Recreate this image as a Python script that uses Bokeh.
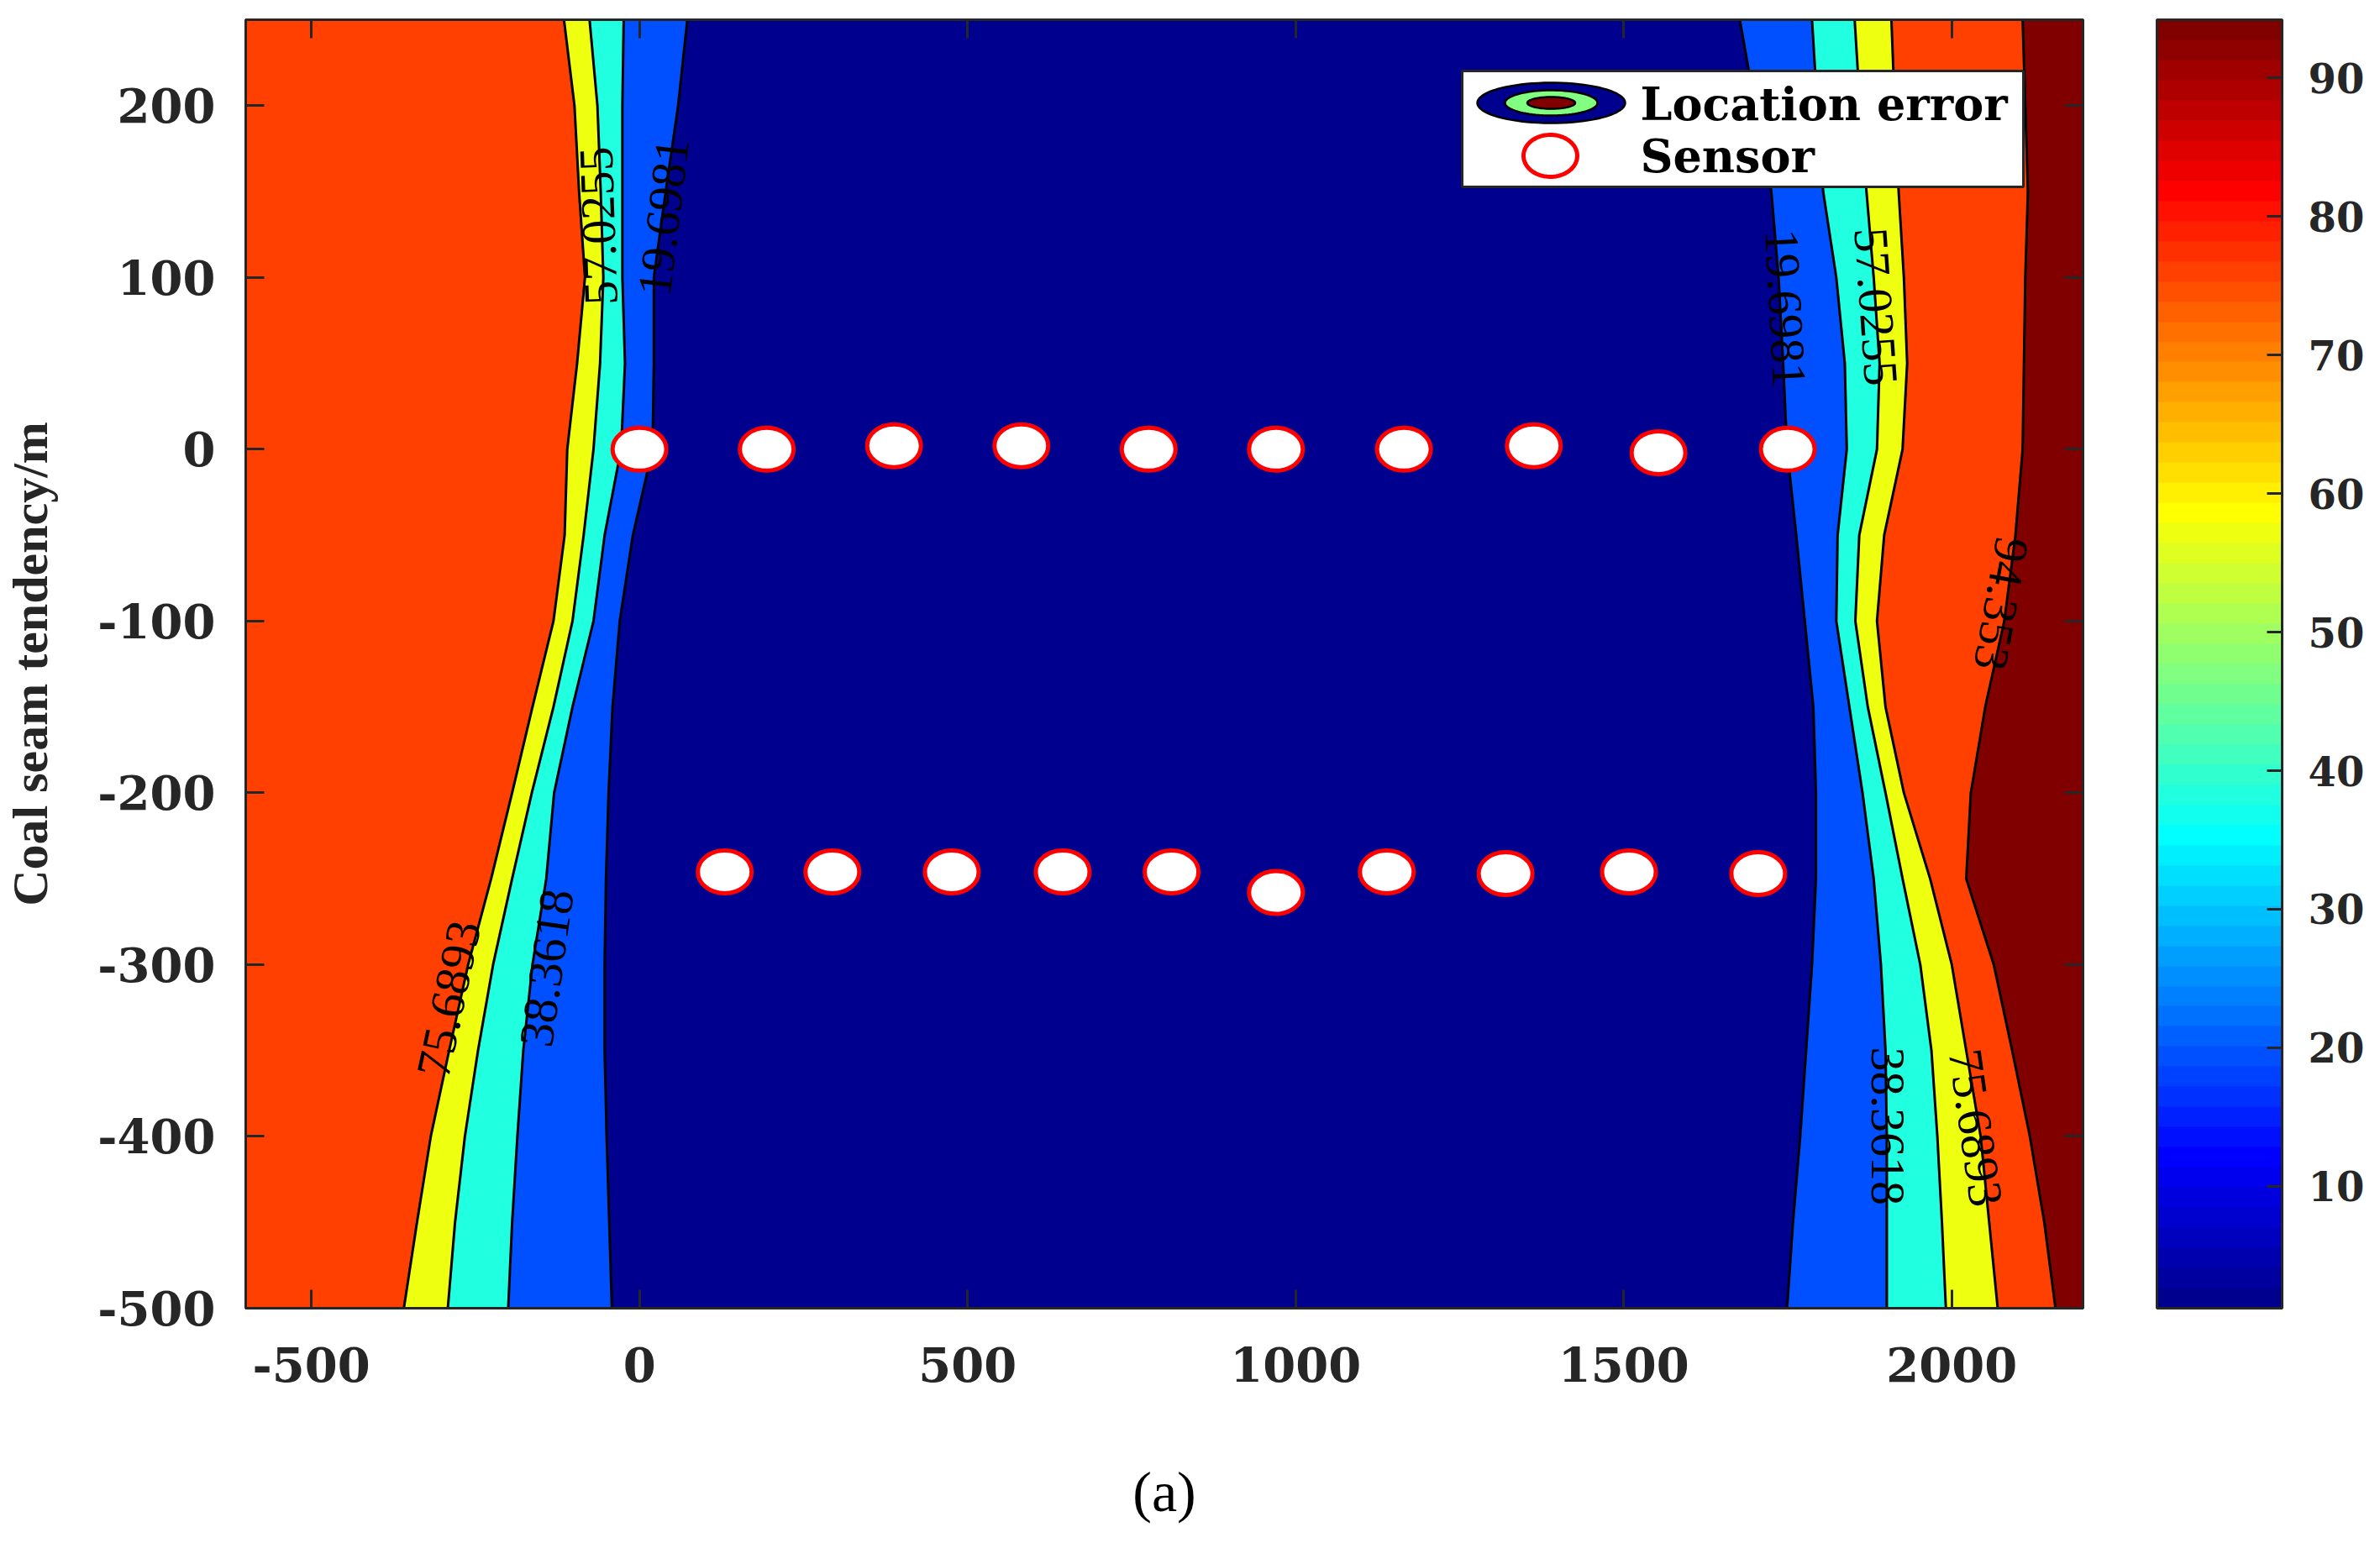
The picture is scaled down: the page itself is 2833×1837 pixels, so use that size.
import numpy as np
from bokeh.plotting import figure
from bokeh.models import (Range1d, FixedTicker, LinearAxis, ColorBar, LinearColorMapper,
                          BoxAnnotation, PolyAnnotation, Label)
from bokeh.core.properties import value
from bokeh.embed import file_html
from bokeh.resources import INLINE

# ---------------- data ----------------
x_limits = [-600, 2200]
y_limits = [-500, 250]
x_ticks = [-500, 0, 500, 1000, 1500, 2000]
y_ticks = [-500, -400, -300, -200, -100, 0, 100, 200]
cbar_ticks = [10, 20, 30, 40, 50, 60, 70, 80, 90]
cbar_limits = [1.2, 94.2]

# y positions at which the contour boundaries were read
boundary_y = [250, 200, 150, 100, 50, 0, -50, -100, -150, -200, -250, -300, -350, -400, -450, -500]

# left-side contour lines (x position of each level)
left_75_6893 = [-115, -99, -92, -83, -95, -110, -114, -131, -163, -194, -226, -261, -290, -318, -339, -359]
left_57_0255 = [-76, -64, -59, -55, -60, -70, -85, -102, -131, -164, -194, -223, -246, -266, -281, -292]
left_38_3618 = [-24, -26, -26, -26, -22, -28, -53, -70, -102, -130, -142, -163, -177, -186, -194, -200]
left_19_6981 = [73, 59, 40, 22, 22, 20, -10, -30, -41, -47, -51, -53, -53, -50, -46, -42]

# right-side contour lines
right_19_6981 = [1677, 1700, 1725, 1736, 1743, 1749, 1763, 1776, 1789, 1793, 1793, 1787, 1778, 1769, 1758, 1749]
right_38_3618 = [1787, 1795, 1804, 1824, 1837, 1840, 1826, 1824, 1844, 1864, 1881, 1892, 1899, 1901, 1901, 1901]
right_57_0255 = [1852, 1860, 1870, 1881, 1890, 1886, 1859, 1853, 1872, 1899, 1925, 1952, 1969, 1978, 1985, 1991]
right_75_6893 = [1908, 1913, 1919, 1927, 1932, 1925, 1897, 1886, 1899, 1927, 1967, 2000, 2022, 2044, 2057, 2070]
right_94_353 = [2108, 2112, 2116, 2112, 2110, 2108, 2097, 2080, 2051, 2029, 2022, 2064, 2092, 2119, 2141, 2158]

# contour labels
label_text = ["57.0255", "19.6981", "75.6893", "38.3618",
              "19.6981", "57.0255", "94.353", "38.3618", "75.6893"]
label_x = [-62, 37, -290, -141, 1746, 1884, 2075, 1902, 2036]
label_y = [130, 135, -320, -302, 82, 83, -90, -394, -395]
label_angle = [92, 83, 78, 82, -87, -86, -100, -90, -82]

# sensors
sensor_row1_x = [0, 194, 388, 582, 776, 970, 1165, 1363, 1553, 1750]
sensor_row1_y = [0, 0, 2, 2, 0, 0, 0, 2, -2, 0]
sensor_row2_x = [130, 294, 476, 645, 811, 970, 1139, 1320, 1508, 1705]
sensor_row2_y = [-246, -246, -246, -246, -246, -258, -246, -247, -246, -247]

# ---------------- styling ----------------
AXIS = "#262626"
NAVY = "#00008F"
BLUE = "#0050FF"
CYAN = "#20FFDF"
YELLOW = "#EFFF10"
ORANGE = "#FF4000"
DARKRED = "#800000"


def matlab_jet(m=64):
    n = int(np.ceil(m / 4))
    u = np.concatenate([np.arange(1, n + 1) / n, np.ones(n - 1), np.arange(n, 0, -1) / n])
    g = int(np.ceil(n / 2)) - (1 if m % 4 == 1 else 0) + np.arange(1, len(u) + 1)
    r = g + n
    b = g - n
    J = np.zeros((m, 3))
    J[r[r <= m] - 1, 0] = u[r <= m]
    J[g[g <= m] - 1, 1] = u[g <= m]
    J[b[b >= 1] - 1, 2] = u[b >= 1]
    return ["#%02x%02x%02x" % tuple(int(round(c * 255)) for c in row) for row in J]


p = figure(width=2817, height=1821,
           x_range=Range1d(*x_limits), y_range=Range1d(*y_limits),
           output_backend="svg", toolbar_location=None,
           min_border_left=284, min_border_right=338,
           min_border_top=23, min_border_bottom=264)
p.xgrid.visible = False
p.ygrid.visible = False
p.outline_line_color = AXIS
p.outline_line_width = 3
p.border_fill_color = "white"
p.background_fill_color = NAVY

# ---- filled bands ----
n = len(boundary_y)
x_lo = [x_limits[0]] * n
x_hi = [x_limits[1]] * n
bands = [
    (x_lo, left_75_6893, ORANGE),
    (left_75_6893, left_57_0255, YELLOW),
    (left_57_0255, left_38_3618, CYAN),
    (left_38_3618, left_19_6981, BLUE),
    (left_19_6981, right_19_6981, NAVY),
    (right_19_6981, right_38_3618, BLUE),
    (right_38_3618, right_57_0255, CYAN),
    (right_57_0255, right_75_6893, YELLOW),
    (right_75_6893, right_94_353, ORANGE),
    (right_94_353, x_hi, DARKRED),
]
for x1, x2, col in bands:
    p.harea(x1=x1, x2=x2, y=boundary_y, fill_color=col, fill_alpha=1)

# ---- contour lines ----
for xs in [left_75_6893, left_57_0255, left_38_3618, left_19_6981,
           right_19_6981, right_38_3618, right_57_0255, right_75_6893, right_94_353]:
    p.line(x=xs, y=boundary_y, line_color="black", line_width=3)

# ---- contour labels ----
p.text(x=label_x, y=label_y, text=label_text, angle=label_angle, angle_units="deg",
       text_align="center", text_baseline="middle",
       text_font=value("Liberation Serif"), text_font_size="58px", text_color="black")

# ---- sensors ----
for sx, sy in [(sensor_row1_x, sensor_row1_y), (sensor_row2_x, sensor_row2_y)]:
    p.ellipse(x=sx, y=sy, width=64, height=51, width_units="screen", height_units="screen",
              fill_color="white", line_color="#FF0000", line_width=5)

# ---- axes ----
def style_axis(ax, ticks, show_labels):
    ax.ticker = FixedTicker(ticks=ticks)
    ax.major_tick_in = 22
    ax.major_tick_out = 0
    ax.minor_tick_line_color = None
    ax.major_tick_line_color = AXIS
    ax.major_tick_line_width = 3
    ax.axis_line_color = AXIS
    ax.axis_line_width = 3
    if show_labels:
        ax.major_label_overrides = {t: str(t) for t in ticks}
        ax.major_label_text_font = "DejaVu Serif"
        ax.major_label_text_font_style = "bold"
        ax.major_label_text_font_size = "56px"
        ax.major_label_text_color = AXIS
    else:
        ax.major_label_overrides = {t: "" for t in ticks}
        ax.major_label_standoff = 0
        ax.major_label_text_font_size = "1px"


xb = p.below[0]
yl = p.left[0]
style_axis(xb, x_ticks, True)
style_axis(yl, y_ticks, True)
xb.major_label_standoff = 46
yl.major_label_standoff = 36
yl.axis_label = "Coal seam tendency/m"
yl.axis_label_text_font = "Liberation Serif"
yl.axis_label_text_font_style = "bold"
yl.axis_label_text_font_size = "60px"
yl.axis_label_text_color = AXIS
yl.axis_label_standoff = 44

# panel caption "(a)" underneath the chart
xb.axis_label = "(a)"
xb.axis_label_text_font = "Liberation Serif"
xb.axis_label_text_font_style = "normal"
xb.axis_label_text_font_size = "68px"
xb.axis_label_text_color = "black"
xb.axis_label_standoff = 90

xt = LinearAxis()
style_axis(xt, x_ticks, False)
p.add_layout(xt, "above")
yr = LinearAxis()
style_axis(yr, y_ticks, False)
p.add_layout(yr, "right")

# ---- colour bar ----
mapper = LinearColorMapper(palette=matlab_jet(64), low=cbar_limits[0], high=cbar_limits[1])
cb = ColorBar(color_mapper=mapper, ticker=FixedTicker(ticks=cbar_ticks),
              width=149, height=1534, margin=0, padding=0, location=(88, 0),
              bar_line_color=AXIS, bar_line_width=3,
              major_tick_line_color=AXIS, major_tick_line_width=3,
              major_tick_in=18, major_tick_out=0, minor_tick_line_color=None,
              major_label_text_font="DejaVu Serif", major_label_text_font_style="bold",
              major_label_text_font_size="48px", major_label_text_color=AXIS,
              label_standoff=31, background_fill_alpha=0, border_line_color=None)
p.add_layout(cb, "right")

# ---- legend (drawn in screen units relative to the plot frame) ----
p.add_layout(BoxAnnotation(left=1448, right=2116, bottom=1335, top=1473,
                           left_units="screen", right_units="screen",
                           bottom_units="screen", top_units="screen",
                           fill_color="white", fill_alpha=1,
                           line_color=AXIS, line_width=3, line_alpha=1))

t = np.linspace(0, 2 * np.pi, 80)
icx, icy = 1554, 1435
for w, h, col in [(176, 48, NAVY), (110, 30, "#80FF80"), (57, 14, DARKRED)]:
    p.add_layout(PolyAnnotation(xs=list(icx + w / 2 * np.cos(t)), ys=list(icy + h / 2 * np.sin(t)),
                                xs_units="screen", ys_units="screen",
                                fill_color=col, fill_alpha=1, line_color="black",
                                line_width=2.5, line_alpha=1))
scx, scy = 1553, 1372
p.add_layout(PolyAnnotation(xs=list(scx + 32 * np.cos(t)), ys=list(scy + 25 * np.sin(t)),
                            xs_units="screen", ys_units="screen",
                            fill_alpha=0, line_color="#FF0000", line_width=5, line_alpha=1))

for txt, ty in [("Location error", 1434), ("Sensor", 1372)]:
    p.add_layout(Label(x=1660, y=ty, x_units="screen", y_units="screen", text=txt,
                       text_font="DejaVu Serif", text_font_style="bold",
                       text_font_size="54px", text_color="black",
                       text_baseline="alphabetic", text_align="left"))

open("out.html", "w").write(file_html(p, INLINE))
